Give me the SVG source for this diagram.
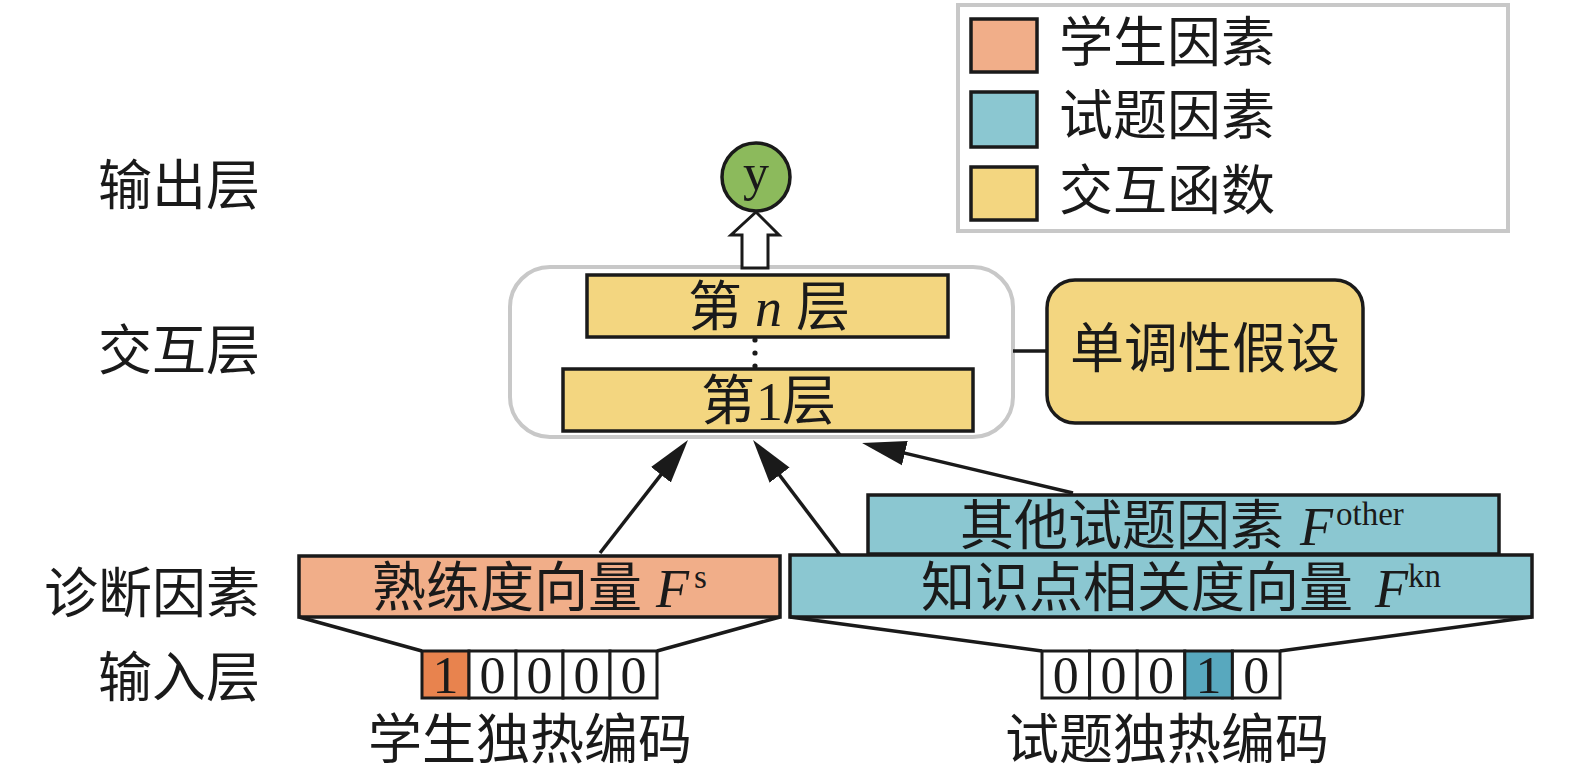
<svg xmlns="http://www.w3.org/2000/svg" width="1575" height="782" viewBox="0 0 1575 782">
<style>
.t{font-family:"Liberation Serif","Noto Sans CJK SC",serif;font-size:54px;fill:#1a1a1a}
.box{stroke:#1a1a1a;stroke-width:3.5}
.stu{fill:#f1ae89}
.item{fill:#8bc7d1}
.fn{fill:#f3d680}
.cell{fill:#fff;stroke:#1a1a1a;stroke-width:3}
.ln{stroke:#1a1a1a;stroke-width:3.5;fill:none}
.it{font-style:italic}
.sup{font-size:33px}
.gray{fill:#fff;stroke:#c8c8c8;stroke-width:4}
</style>
<defs>
<marker id="ah" markerUnits="userSpaceOnUse" markerWidth="46" markerHeight="30" viewBox="0 -15 46 30" refX="24" refY="0" orient="auto">
<path d="M44,0 L0,-12.5 L0,12.5 Z" fill="#1a1a1a"/>
</marker>
</defs>
<rect width="1575" height="782" fill="#fff"/>

<g id="legend">
<rect x="958" y="5" width="550" height="226" class="gray" stroke-width="3.5"/>
<rect x="971" y="19" width="66" height="53" class="box stu"/>
<rect x="971" y="92" width="66" height="55" class="box item"/>
<rect x="971" y="167" width="66" height="53" class="box fn"/>
<text class="t" x="1059" y="62">学生因素</text>
<text class="t" x="1059" y="135">试题因素</text>
<text class="t" x="1059" y="210">交互函数</text>
</g>

<g id="row-labels">
<text class="t" x="260" y="205" text-anchor="end">输出层</text>
<text class="t" x="260" y="370" text-anchor="end">交互层</text>
<text class="t" x="260" y="613" text-anchor="end">诊断因素</text>
<text class="t" x="260" y="697" text-anchor="end">输入层</text>
</g>

<g id="interaction-container">
<rect x="510" y="267" width="503" height="170" rx="40" class="gray"/>
</g>

<g id="output-y">
<circle cx="756" cy="177" r="34" fill="#8cba5c" stroke="#1a1a1a" stroke-width="3.5"/>
<text class="t" x="756" y="190" text-anchor="middle" style="font-size:52px">y</text>
</g>

<g id="layer-n">
<rect x="587" y="275" width="361" height="62" class="box fn"/>
<text class="t" y="326"><tspan x="688">第</tspan><tspan x="755" class="it">n</tspan><tspan x="796">层</tspan></text>
</g>

<g id="layer-1">
<rect x="563" y="369" width="410" height="62" class="box fn"/>
<text class="t" y="420"><tspan x="701">第</tspan><tspan x="756">1</tspan><tspan x="782">层</tspan></text>
</g>

<g id="monotonic">
<rect x="1047" y="280" width="316" height="143" rx="28" class="box fn"/>
<text class="t" x="1205" y="368" text-anchor="middle">单调性假设</text>
</g>

<g id="proficiency">
<rect x="299" y="556" width="481" height="61" class="box stu"/>
<text class="t" y="607"><tspan x="372">熟练度向量</tspan><tspan x="656" class="it">F</tspan><tspan x="694" y="588" class="sup">s</tspan></text>
</g>

<g id="other-item-factors">
<rect x="868" y="495" width="631" height="59" class="box item"/>
<text class="t" y="545"><tspan x="960">其他试题因素</tspan><tspan x="1300" class="it">F</tspan><tspan x="1336" y="525" class="sup">other</tspan></text>
</g>

<g id="knowledge-relevance">
<rect x="790" y="555" width="742" height="62" class="box item"/>
<text class="t" y="607"><tspan x="921">知识点相关度向量</tspan><tspan x="1375" class="it">F</tspan><tspan x="1408" y="587" class="sup">kn</tspan></text>
</g>

<g id="student-onehot">
<rect x="422" y="651" width="47" height="47" class="cell" fill="#e8834e" style="fill:#e8834e"/>
<rect x="469" y="651" width="47" height="47" class="cell"/>
<rect x="516" y="651" width="47" height="47" class="cell"/>
<rect x="563" y="651" width="47" height="47" class="cell"/>
<rect x="610" y="651" width="47" height="47" class="cell"/>
<g class="t" text-anchor="middle" style="font-size:52px">
<text x="445.5" y="693">1</text>
<text x="492.5" y="693">0</text>
<text x="539.5" y="693">0</text>
<text x="586.5" y="693">0</text>
<text x="633.5" y="693">0</text>
</g>
<text class="t" x="368" y="759">学生独热编码</text>
</g>

<g id="item-onehot">
<rect x="1042" y="651" width="47.6" height="47" class="cell"/>
<rect x="1089.6" y="651" width="47.6" height="47" class="cell"/>
<rect x="1137.2" y="651" width="47.6" height="47" class="cell"/>
<rect x="1184.8" y="651" width="47.6" height="47" class="cell" style="fill:#58a8be"/>
<rect x="1232.4" y="651" width="47.6" height="47" class="cell"/>
<g class="t" text-anchor="middle" style="font-size:52px">
<text x="1065.8" y="693">0</text>
<text x="1113.4" y="693">0</text>
<text x="1161" y="693">0</text>
<text x="1208.6" y="693">1</text>
<text x="1256.2" y="693">0</text>
</g>
<text class="t" x="1005" y="759">试题独热编码</text>
</g>

<g id="connectors">
<polygon points="756,212 779,235 768,235 768,268 742,268 742,235 731,235" fill="#fff" stroke="#1a1a1a" stroke-width="3" stroke-linejoin="miter"/>
<circle cx="755" cy="340" r="2.6" fill="#1a1a1a"/>
<circle cx="755" cy="353" r="2.6" fill="#1a1a1a"/>
<circle cx="755" cy="366" r="2.6" fill="#1a1a1a"/>
<line x1="1013" y1="351" x2="1047" y2="351" class="ln" stroke-width="3"/>
<line x1="600" y1="553" x2="675.7" y2="455.8" class="ln" marker-end="url(#ah)"/>
<line x1="840" y1="555" x2="765.1" y2="456" class="ln" marker-end="url(#ah)"/>
<line x1="1073" y1="493" x2="881.5" y2="447.6" class="ln" marker-end="url(#ah)"/>
<polyline points="299,617 422,651" class="ln" stroke-width="3"/>
<polyline points="780,617 657,651" class="ln" stroke-width="3"/>
<polyline points="790,617 1042,651" class="ln" stroke-width="3"/>
<polyline points="1532,617 1280,651" class="ln" stroke-width="3"/>
</g>
</svg>
